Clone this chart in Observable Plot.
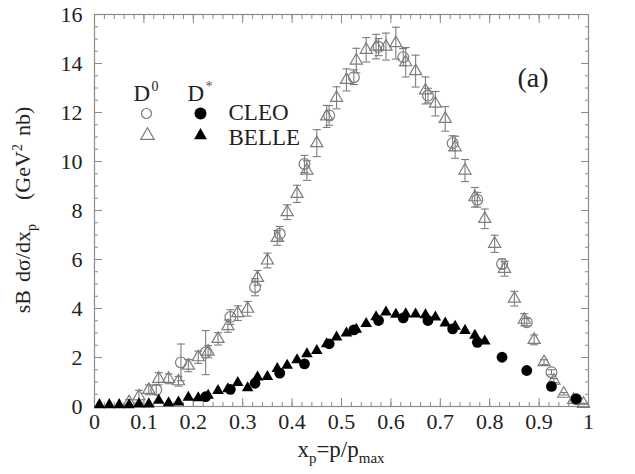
<!DOCTYPE html>
<html>
<head>
<meta charset="utf-8">
<script src="https://cdn.jsdelivr.net/npm/d3@7"></script>
<script src="https://cdn.jsdelivr.net/npm/@observablehq/plot@0.6"></script>
<style>
  html, body { margin: 0; padding: 0; background: #fff; }
  #chart { width: 635px; height: 474px; }
  #chart svg, #chart svg text { font-family: "Liberation Serif", "DejaVu Serif", serif; }
</style>
</head>
<body>
<div id="chart"></div>
<script>
// ---------- data ----------
// BELLE D0 (open triangles)
const belleD0X = [0.07,0.09,0.11,0.13,0.15,0.17,0.19,0.21,0.23,0.25,0.27,0.29,0.31,0.33,0.35,0.37,0.39,0.41,0.43,0.45,0.47,0.49,0.51,0.53,0.55,0.57,0.59,0.61,0.63,0.65,0.67,0.69,0.71,0.73,0.75,0.77,0.79,0.81,0.83,0.85,0.87,0.89,0.91,0.93,0.95,0.97,0.99];
const belleD0Y = [0.18,0.41,0.68,1.13,1.13,1.03,1.67,2.01,2.24,2.76,3.28,3.81,3.99,5.25,5.96,6.88,7.93,8.68,9.63,10.75,11.84,12.6,13.33,14.12,14.56,14.69,14.69,14.83,14.05,13.69,12.9,12.36,11.74,10.58,9.63,8.54,7.66,6.64,5.62,4.40,3.54,2.72,1.81,1.06,0.52,0.27,0.11];
const belleD0Err = [0.1,0.25,0.2,0.25,0.2,0.2,0.25,0.25,0.25,0.25,0.25,0.3,0.3,0.3,0.3,0.3,0.3,0.35,0.4,0.55,0.45,0.45,0.45,0.5,0.5,0.5,0.55,0.65,0.6,0.65,0.55,0.5,0.5,0.45,0.45,0.4,0.4,0.35,0.3,0.3,0.25,0.2,0.1,0.08,0.05,0.03,0.02];
// CLEO D0 (open circles)
const cleoD0X = [0.125,0.175,0.225,0.275,0.325,0.375,0.425,0.475,0.525,0.575,0.625,0.675,0.725,0.775,0.825,0.875,0.925,0.975];
const cleoD0Y = [0.68,1.8,2.2,3.65,4.87,7.05,9.9,11.88,13.44,14.67,14.26,12.69,10.75,8.44,5.82,3.44,1.40,0.30];
const cleoD0Err = [0.2,0.75,0.9,0.3,0.35,0.3,0.35,0.4,0.3,0.35,0.35,0.3,0.3,0.3,0.2,0.15,0.1,0.05];
// BELLE D* (filled triangles)
const belleDsX = [0.01,0.03,0.05,0.07,0.09,0.11,0.13,0.15,0.17,0.19,0.21,0.23,0.25,0.27,0.29,0.31,0.33,0.35,0.37,0.39,0.41,0.43,0.45,0.47,0.49,0.51,0.53,0.55,0.57,0.59,0.61,0.63,0.65,0.67,0.69,0.71,0.73,0.75,0.77,0.79];
const belleDsY = [0.07,0.07,0.07,0.06,0.10,0.10,0.25,0.15,0.18,0.37,0.35,0.45,0.65,0.72,0.97,0.76,1.20,1.22,1.54,1.68,1.90,2.15,2.28,2.55,2.83,2.99,3.15,3.38,3.66,3.85,3.76,3.78,3.77,3.74,3.65,3.40,3.27,3.10,2.90,2.67];
// CLEO D* (filled circles)
const cleoDsX = [0.225,0.275,0.325,0.375,0.425,0.475,0.525,0.575,0.625,0.675,0.725,0.775,0.825,0.875,0.925,0.975];
const cleoDsY = [0.40,0.70,0.95,1.36,1.74,2.56,3.13,3.51,3.62,3.51,3.17,2.62,2.01,1.47,0.82,0.31];

// axis ticks
const xTicks = [0,0.1,0.2,0.3,0.4,0.5,0.6,0.7,0.8,0.9,1];
const xTickLabels = ["0","0.1","0.2","0.3","0.4","0.5","0.6","0.7","0.8","0.9","1"];
const yTicks = [0,2,4,6,8,10,12,14,16];
const yTickLabels = ["0","2","4","6","8","10","12","14","16"];
const xMinor = d3.range(0, 51).map(i => i / 50);
const yMinor = d3.range(0, 33).map(i => i / 2);

// legend labels
const legendHeaders = ["D", "D"];
const legendSups = ["0", "*"];
const legendRows = ["CLEO", "BELLE"];
const panelLabel = "(a)";

// ---------- tables ----------
const belleD0 = belleD0X.map((x, i) => ({x, y: belleD0Y[i], e: belleD0Err[i]}));
const cleoD0 = cleoD0X.map((x, i) => ({x, y: cleoD0Y[i], e: cleoD0Err[i]}));
const belleDs = belleDsX.map((x, i) => ({x, y: belleDsY[i]}));
const cleoDs = cleoDsX.map((x, i) => ({x, y: cleoDsY[i]}));

const GRAY = "#7c7c7c";
const FRAME = "#8a8a8a";
const SERIF = "'Liberation Serif', 'DejaVu Serif', serif";
const cap = {draw(ctx) { ctx.moveTo(-4, 0); ctx.lineTo(4, 0); }};

const fmtX = d => xTickLabels[xTicks.indexOf(d)];
const fmtY = d => yTickLabels[yTicks.indexOf(d)];

const chart = Plot.plot({
  width: 635,
  height: 474,
  marginLeft: 94,
  marginRight: 47,
  marginTop: 14,
  marginBottom: 68,
  style: `font-family: ${SERIF}; font-size: 22px; background: #fff; color: #222;`,
  x: {domain: [0, 1]},
  y: {domain: [0, 16]},
  marks: [
    // inward ticks, all four sides
    Plot.axisX({anchor: "bottom", ticks: xTicks, tickSize: 8, dy: -8, fill: "none", stroke: FRAME, label: null}),
    Plot.axisX({anchor: "bottom", ticks: xMinor, tickSize: 4, dy: -4, fill: "none", stroke: FRAME, label: null}),
    Plot.axisX({anchor: "top", ticks: xTicks, tickSize: 8, dy: 8, fill: "none", stroke: FRAME, label: null}),
    Plot.axisX({anchor: "top", ticks: xMinor, tickSize: 4, dy: 4, fill: "none", stroke: FRAME, label: null}),
    Plot.axisY({anchor: "left", ticks: yTicks, tickSize: 8, dx: 8, fill: "none", stroke: FRAME, label: null}),
    Plot.axisY({anchor: "left", ticks: yMinor, tickSize: 4, dx: 4, fill: "none", stroke: FRAME, label: null}),
    Plot.axisY({anchor: "right", ticks: yTicks, tickSize: 8, dx: -8, fill: "none", stroke: FRAME, label: null}),
    Plot.axisY({anchor: "right", ticks: yMinor, tickSize: 4, dx: -4, fill: "none", stroke: FRAME, label: null}),
    // tick labels
    Plot.axisX({anchor: "bottom", ticks: xTicks, tickSize: 0, tickPadding: 7, tickFormat: fmtX, label: null, fill: "#222", fontSize: 22, fontFamily: SERIF}),
    Plot.axisY({anchor: "left", ticks: yTicks, tickSize: 0, tickPadding: 12, tickFormat: fmtY, label: null, fill: "#222", fontSize: 22, fontFamily: SERIF}),
    Plot.frame({stroke: FRAME, strokeWidth: 1.2}),
    // D0 error bars
    Plot.ruleX(belleD0, {x: "x", y1: d => d.y - d.e, y2: d => d.y + d.e, stroke: GRAY, strokeWidth: 1.1}),
    Plot.dot(belleD0, {x: "x", y: d => d.y + d.e, symbol: cap, stroke: GRAY, strokeWidth: 1.1}),
    Plot.dot(belleD0, {x: "x", y: d => d.y - d.e, symbol: cap, stroke: GRAY, strokeWidth: 1.1}),
    Plot.ruleX(cleoD0, {x: "x", y1: d => d.y - d.e, y2: d => d.y + d.e, stroke: GRAY, strokeWidth: 1.1}),
    Plot.dot(cleoD0, {x: "x", y: d => d.y + d.e, symbol: cap, stroke: GRAY, strokeWidth: 1.1}),
    Plot.dot(cleoD0, {x: "x", y: d => d.y - d.e, symbol: cap, stroke: GRAY, strokeWidth: 1.1}),
    // D0 markers
    Plot.dot(belleD0, {x: "x", y: "y", symbol: "triangle", r: 4.5, stroke: GRAY, strokeWidth: 1.2, fill: "none"}),
    Plot.dot(cleoD0, {x: "x", y: "y", symbol: "circle", r: 5.4, stroke: GRAY, strokeWidth: 1.2, fill: "none"}),
    // D* markers
    Plot.dot(belleDs, {x: "x", y: "y", symbol: "triangle", r: 4.3, fill: "#000", stroke: "none"}),
    Plot.dot(cleoDs, {x: "x", y: "y", symbol: "circle", r: 5.4, fill: "#000", stroke: "none"}),
    // legend
    Plot.text([legendHeaders[0]], {text: d => d, frameAnchor: "top-left", dx: 39, dy: 86, textAnchor: "start", lineAnchor: "bottom", fontSize: 23, fontFamily: SERIF, fill: "#222"}),
    Plot.text([legendSups[0]], {text: d => d, frameAnchor: "top-left", dx: 57, dy: 76, textAnchor: "start", lineAnchor: "bottom", fontSize: 14, fontFamily: SERIF, fill: "#222"}),
    Plot.text([legendHeaders[1]], {text: d => d, frameAnchor: "top-left", dx: 93, dy: 86, textAnchor: "start", lineAnchor: "bottom", fontSize: 23, fontFamily: SERIF, fill: "#222"}),
    Plot.text([legendSups[1]], {text: d => d, frameAnchor: "top-left", dx: 111, dy: 76, textAnchor: "start", lineAnchor: "bottom", fontSize: 14, fontFamily: SERIF, fill: "#555"}),
    Plot.dot([0], {frameAnchor: "top-left", dx: 52, dy: 99, symbol: "circle", r: 5, stroke: GRAY, strokeWidth: 1.2, fill: "none"}),
    Plot.dot([0], {frameAnchor: "top-left", dx: 106, dy: 99, symbol: "circle", r: 6, fill: "#000"}),
    Plot.dot([0], {frameAnchor: "top-left", dx: 53, dy: 121, symbol: "triangle", r: 5, stroke: GRAY, strokeWidth: 1.2, fill: "none"}),
    Plot.dot([0], {frameAnchor: "top-left", dx: 106, dy: 121, symbol: "triangle", r: 4.8, fill: "#000"}),
    Plot.text([legendRows[0]], {text: d => d, frameAnchor: "top-left", dx: 134, dy: 98, textAnchor: "start", lineAnchor: "middle", fontSize: 23, fontFamily: SERIF, fill: "#222"}),
    Plot.text([legendRows[1]], {text: d => d, frameAnchor: "top-left", dx: 134, dy: 123, textAnchor: "start", lineAnchor: "middle", fontSize: 23, fontFamily: SERIF, fill: "#222"}),
    Plot.text([panelLabel], {text: d => d, frameAnchor: "top-right", dx: -40, dy: 64, textAnchor: "end", lineAnchor: "middle", fontSize: 28, fontFamily: SERIF, fill: "#222"})
  ]
});

document.getElementById("chart").appendChild(chart);

// axis titles with sub/superscripts
const svg = d3.select(chart);
const xt = svg.append("text")
  .attr("x", 341).attr("y", 457)
  .attr("text-anchor", "middle")
  .attr("font-family", SERIF)
  .attr("font-size", 23)
  .attr("fill", "#222");
xt.append("tspan").text("x");
xt.append("tspan").attr("dy", 6).attr("font-size", 15).text("p");
xt.append("tspan").attr("dy", -6).text("=p/p");
xt.append("tspan").attr("dy", 6).attr("font-size", 15).text("max");

const yt = svg.append("text")
  .attr("transform", "translate(30,210) rotate(-90)")
  .attr("text-anchor", "middle")
  .attr("font-family", SERIF)
  .attr("font-size", 22)
  .attr("fill", "#222");
yt.append("tspan").text("sB");
yt.append("tspan").attr("dx", 8).text("d\u03c3/dx");
yt.append("tspan").attr("dy", 6).attr("font-size", 14).text("p");
yt.append("tspan").attr("dy", -6).attr("dx", 24).text("(GeV");
yt.append("tspan").attr("dy", -8).attr("font-size", 14).text("2");
yt.append("tspan").attr("dy", 8).attr("dx", 8).text("nb)");
</script>
</body>
</html>
